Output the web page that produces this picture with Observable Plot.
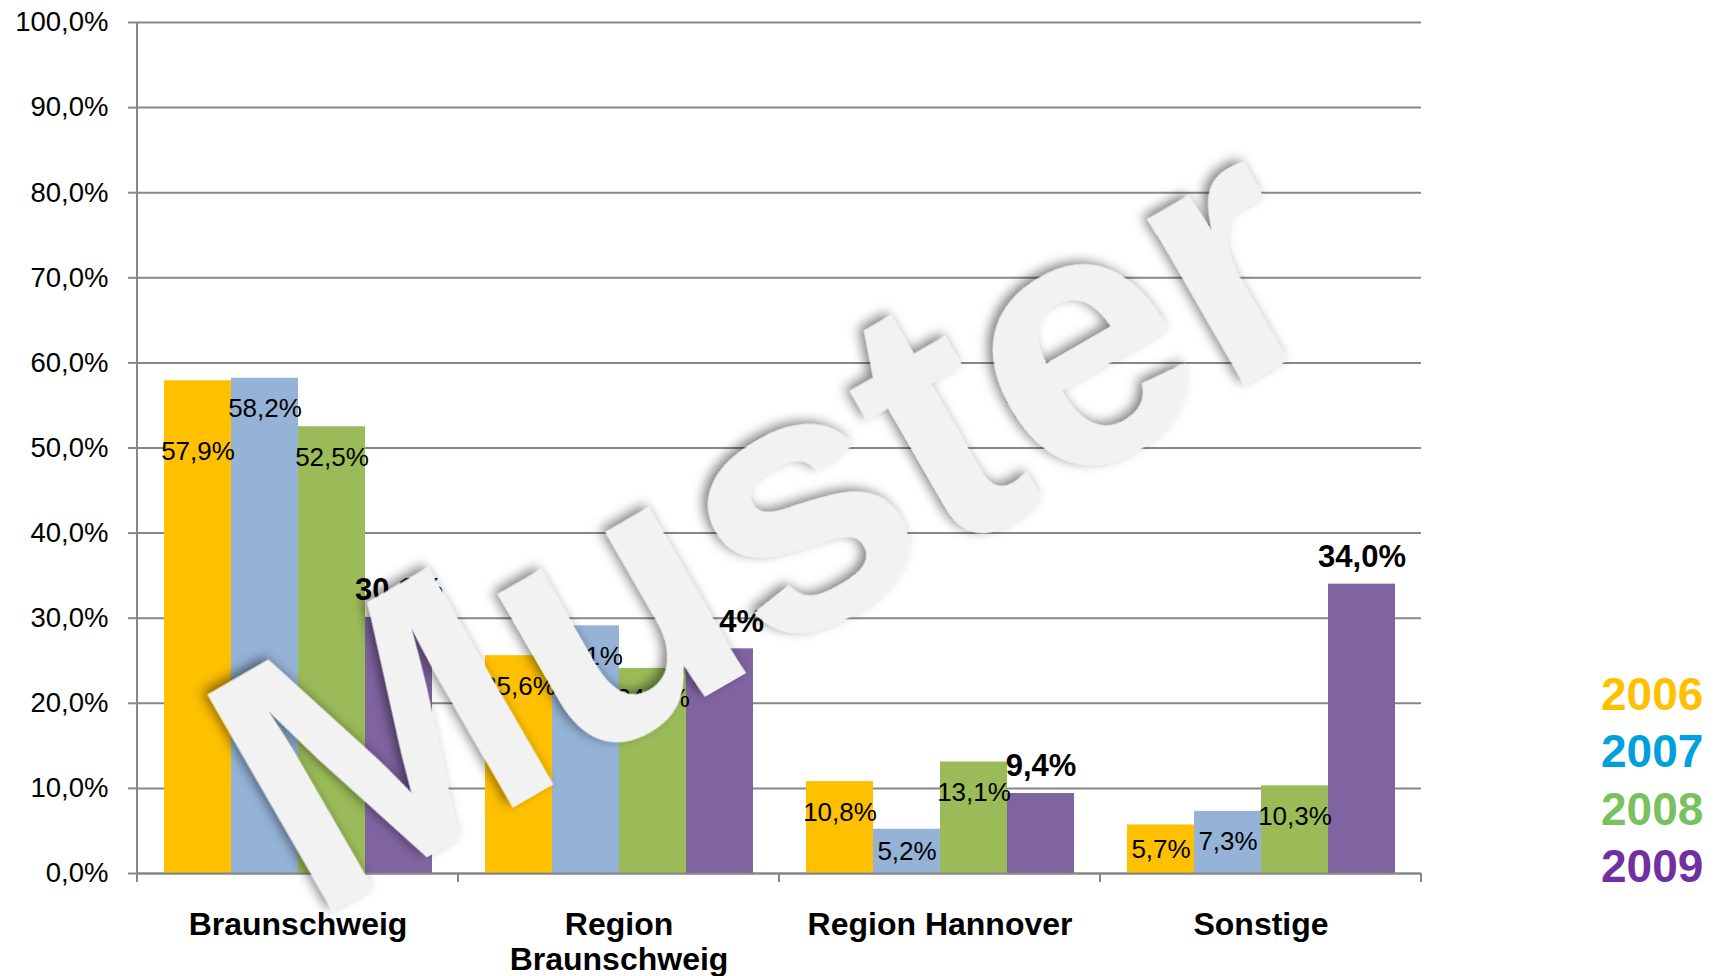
<!DOCTYPE html>
<html><head><meta charset="utf-8">
<script src="https://cdn.jsdelivr.net/npm/d3@7"></script>
<script src="https://cdn.jsdelivr.net/npm/@observablehq/plot@0.6"></script>
<style>
body{margin:0;background:#fff;}
#chart{position:relative;width:1723px;height:976px;}
</style>
</head><body><div id="chart"></div>
<script>
const categories = ["Braunschweig", "Region Braunschweig", "Region Hannover", "Sonstige"];
const categoryLabels = ["Braunschweig", "Region\nBraunschweig", "Region Hannover", "Sonstige"];
const years = ["2006", "2007", "2008", "2009"];
const values2006 = [57.9, 25.6, 10.8, 5.7];
const values2007 = [58.2, 29.1, 5.2, 7.3];
const values2008 = [52.5, 24.1, 13.1, 10.3];
const values2009 = [30.1, 26.4, 9.4, 34.0];
const yTicks = [0, 10, 20, 30, 40, 50, 60, 70, 80, 90, 100];
const barColors = ["#FFC000", "#95B3D7", "#9BBB59", "#8064A2"];
const legendColors = ["#FFC000", "#00A0DC", "#77C15F", "#7030A0"];
const watermark = "Muster";

const series = [values2006, values2007, values2008, values2009];
const rows = [];
categories.forEach((c, i) => years.forEach((y, j) => rows.push({category: c, year: y, value: series[j][i]})));

const fmt = v => v.toFixed(1).replace(".", ",") + "%";
// label placement (inside end, centered for short bars); one label moved down as in the original
const labelY = d => {
  let y = Math.max(d.value / 2, d.value - 3.6);
  if (d.category === "Braunschweig" && d.year === "2006") y -= 4.7;
  return y;
};
const font = "'Liberation Sans', Arial, sans-serif";
const gridColor = "#878787";

const chart = Plot.plot({
  width: 1723, height: 976,
  marginLeft: 136, marginRight: 302, marginTop: 22, marginBottom: 103,
  style: {fontFamily: font, background: "transparent", color: "#000", overflow: "visible"},
  fx: {domain: categories, padding: 0, axis: null},
  x: {domain: years, paddingInner: 0, paddingOuter: 0.364, axis: null},
  y: {domain: [0, 100], axis: null},
  color: {domain: years, range: barColors},
  marks: [
    Plot.gridY(yTicks, {stroke: gridColor, strokeOpacity: 1, strokeWidth: 2}),
    Plot.axisY(yTicks, {tickSize: 9, tickPadding: 20, tickFormat: fmt, fontSize: 27.5, stroke: gridColor, strokeWidth: 2, fill: "#000", label: null}),
    Plot.barY(rows, {fx: "category", x: "year", y: "value", fill: "year"}),
    Plot.ruleY([0], {stroke: gridColor, strokeWidth: 2}),
    Plot.text(rows.filter(d => d.year !== "2009"), {fx: "category", x: "year", y: labelY, text: d => fmt(d.value), fontSize: 26, fill: "#000"}),
    Plot.text(rows.filter(d => d.year === "2009"), {fx: "category", x: "year", y: "value", text: d => fmt(d.value), fontSize: 31, fontWeight: "bold", fill: "#000", dy: -27}),
    Plot.text(categories, {fx: d => d, text: (d, i) => categoryLabels[i], frameAnchor: "bottom", lineAnchor: "top", dy: 36, fontSize: 32, fontWeight: "bold", lineHeight: 1.1, fill: "#000"})
  ]
});

const svg = d3.select(chart);
const fxs = chart.scale("fx"), ys = chart.scale("y");
const y0 = ys.apply(0), y100 = ys.apply(100);
const bounds = categories.map(c => fxs.apply(c));
bounds.push(fxs.apply(categories[categories.length - 1]) + fxs.bandwidth);
const axisG = svg.append("g").attr("stroke", gridColor).attr("stroke-width", 2);
axisG.append("line").attr("x1", bounds[0]).attr("x2", bounds[0]).attr("y1", y100).attr("y2", y0);
bounds.forEach(b => axisG.append("line").attr("x1", b).attr("x2", b).attr("y1", y0).attr("y2", y0 + 9));

// legend
years.forEach((yr, i) => {
  svg.append("text").attr("x", 1601).attr("y", 693 + i * 57.5).attr("dy", "0.36em")
    .attr("text-anchor", "start")
    .attr("font-family", font).attr("font-size", 46).attr("font-weight", "bold")
    .attr("fill", legendColors[i]).text(yr);
});

// watermark
const defs = svg.append("defs");
const f = defs.append("filter").attr("id", "wmShadow").attr("x", "-20%").attr("y", "-20%").attr("width", "140%").attr("height", "140%");
f.append("feDropShadow").attr("dx", -3).attr("dy", -5).attr("stdDeviation", 6).attr("flood-color", "#000").attr("flood-opacity", 0.5);
svg.append("text").attr("transform", "translate(763,512) rotate(-30)")
  .attr("text-anchor", "middle").attr("dy", "0.36em")
  .attr("font-family", font).attr("font-size", 364).attr("font-weight", "bold")
  .attr("fill", "#f2f2f2").attr("filter", "url(#wmShadow)").text(watermark);

document.getElementById("chart").appendChild(chart);
</script>
</body></html>
